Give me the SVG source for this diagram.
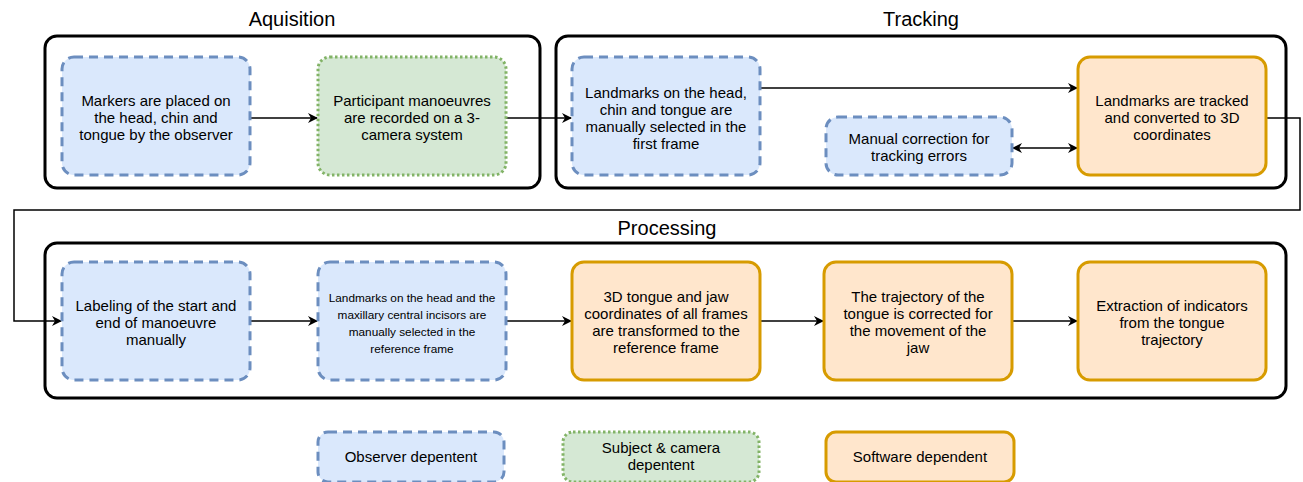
<svg xmlns="http://www.w3.org/2000/svg" width="1303" height="482" viewBox="0 0 1303 482">
<style>
text{font-family:"Liberation Sans",Arial,sans-serif;fill:#000;text-anchor:middle}
.t{font-size:15px}
.s{font-size:11.8px}
.h{font-size:20px}
.c{fill:none;stroke:#000;stroke-width:3}
.obs{fill:#dae8fc;stroke:#6c8ebf;stroke-width:3;stroke-dasharray:9 6}
.sub{fill:#d5e8d4;stroke:#82b366;stroke-width:3;stroke-dasharray:2.5 2.5}
.sw{fill:#ffe6cc;stroke:#d79b00;stroke-width:3}
.e{fill:none;stroke:#000;stroke-width:1.5}
</style>
<defs>
<marker id="a" markerWidth="10" markerHeight="10" refX="9" refY="5" orient="auto" markerUnits="userSpaceOnUse"><path d="M0,0 L10,5 L0,10 L3,5 Z" fill="#000"/></marker>
<marker id="b" markerWidth="10" markerHeight="10" refX="1" refY="5" orient="auto" markerUnits="userSpaceOnUse"><path d="M10,0 L0,5 L10,10 L7,5 Z" fill="#000"/></marker>
</defs>
<g id="containers">
<rect class="c" x="45" y="36" width="495" height="152" rx="12"/>
<text class="h" x="292" y="26">Aquisition</text>
<rect class="c" x="556" y="36" width="730" height="152" rx="12"/>
<text class="h" x="921" y="26">Tracking</text>
<rect class="c" x="45" y="243" width="1241" height="155" rx="12"/>
<text class="h" x="667" y="235">Processing</text>
</g>
<g id="connectors">
<path class="e" d="M250,118 H317" marker-end="url(#a)"/>
<path class="e" d="M506,118 H571" marker-end="url(#a)"/>
<path class="e" d="M760,88 H1077" marker-end="url(#a)"/>
<path class="e" d="M1013,148 H1077" marker-start="url(#b)" marker-end="url(#a)"/>
<path class="e" d="M1266,118 H1300 V210 H14 V321 H61" marker-end="url(#a)"/>
<path class="e" d="M250,321 H317" marker-end="url(#a)"/>
<path class="e" d="M506,321 H571" marker-end="url(#a)"/>
<path class="e" d="M760,321 H823" marker-end="url(#a)"/>
<path class="e" d="M1012,321 H1077" marker-end="url(#a)"/>
</g>
<g id="n1"><rect class="obs" x="62" y="57" width="188" height="118" rx="12"/>
<text class="t" x="156" y="106">Markers are placed on</text><text class="t" x="156" y="123">the head, chin and</text><text class="t" x="156" y="140">tongue by the observer</text></g>
<g id="n2"><rect class="sub" x="318" y="57" width="188" height="118" rx="12"/>
<text class="t" x="412" y="106">Participant manoeuvres</text><text class="t" x="412" y="123">are recorded on a 3-</text><text class="t" x="412" y="140">camera system</text></g>
<g id="n3"><rect class="obs" x="572" y="57" width="188" height="118" rx="12"/>
<text class="t" x="666" y="98">Landmarks on the head,</text><text class="t" x="666" y="115">chin and tongue are</text><text class="t" x="666" y="132">manually selected in the</text><text class="t" x="666" y="149">first frame</text></g>
<g id="n4"><rect class="sw" x="1078" y="57" width="188" height="118" rx="12"/>
<text class="t" x="1172" y="106">Landmarks are tracked</text><text class="t" x="1172" y="123">and converted to 3D</text><text class="t" x="1172" y="140">coordinates</text></g>
<g id="n5"><rect class="obs" x="826" y="117" width="186" height="58" rx="12"/>
<text class="t" x="919" y="144">Manual correction for</text><text class="t" x="919" y="161">tracking errors</text></g>
<g id="n6"><rect class="obs" x="62" y="262" width="188" height="118" rx="12"/>
<text class="t" x="156" y="311">Labeling of the start and</text><text class="t" x="156" y="328">end of manoeuvre</text><text class="t" x="156" y="345">manually</text></g>
<g id="n7"><rect class="obs" x="318" y="262" width="188" height="118" rx="12"/>
<text class="s" x="412" y="302">Landmarks on the head and the</text><text class="s" x="412" y="319">maxillary central incisors are</text><text class="s" x="412" y="336">manually selected in the</text><text class="s" x="412" y="353">reference frame</text></g>
<g id="n8"><rect class="sw" x="572" y="262" width="188" height="118" rx="12"/>
<text class="t" x="666" y="302">3D tongue and jaw</text><text class="t" x="666" y="319">coordinates of all frames</text><text class="t" x="666" y="336">are transformed to the</text><text class="t" x="666" y="353">reference frame</text></g>
<g id="n9"><rect class="sw" x="824" y="262" width="188" height="118" rx="12"/>
<text class="t" x="918" y="302">The trajectory of the</text><text class="t" x="918" y="319">tongue is corrected for</text><text class="t" x="918" y="336">the movement of the</text><text class="t" x="918" y="353">jaw</text></g>
<g id="n10"><rect class="sw" x="1078" y="262" width="188" height="118" rx="12"/>
<text class="t" x="1172" y="311">Extraction of indicators</text><text class="t" x="1172" y="328">from the tongue</text><text class="t" x="1172" y="345">trajectory</text></g>
<g id="legend1"><rect class="obs" x="318" y="432" width="186" height="50" rx="10"/>
<text class="t" x="411" y="462">Observer depentent</text></g>
<g id="legend2"><rect class="sub" x="563" y="432" width="196" height="50" rx="10"/>
<text class="t" x="661" y="453">Subject &amp; camera</text><text class="t" x="661" y="470">depentent</text></g>
<g id="legend3"><rect class="sw" x="826" y="432" width="188" height="50" rx="10"/>
<text class="t" x="920" y="462">Software dependent</text></g>
</svg>
